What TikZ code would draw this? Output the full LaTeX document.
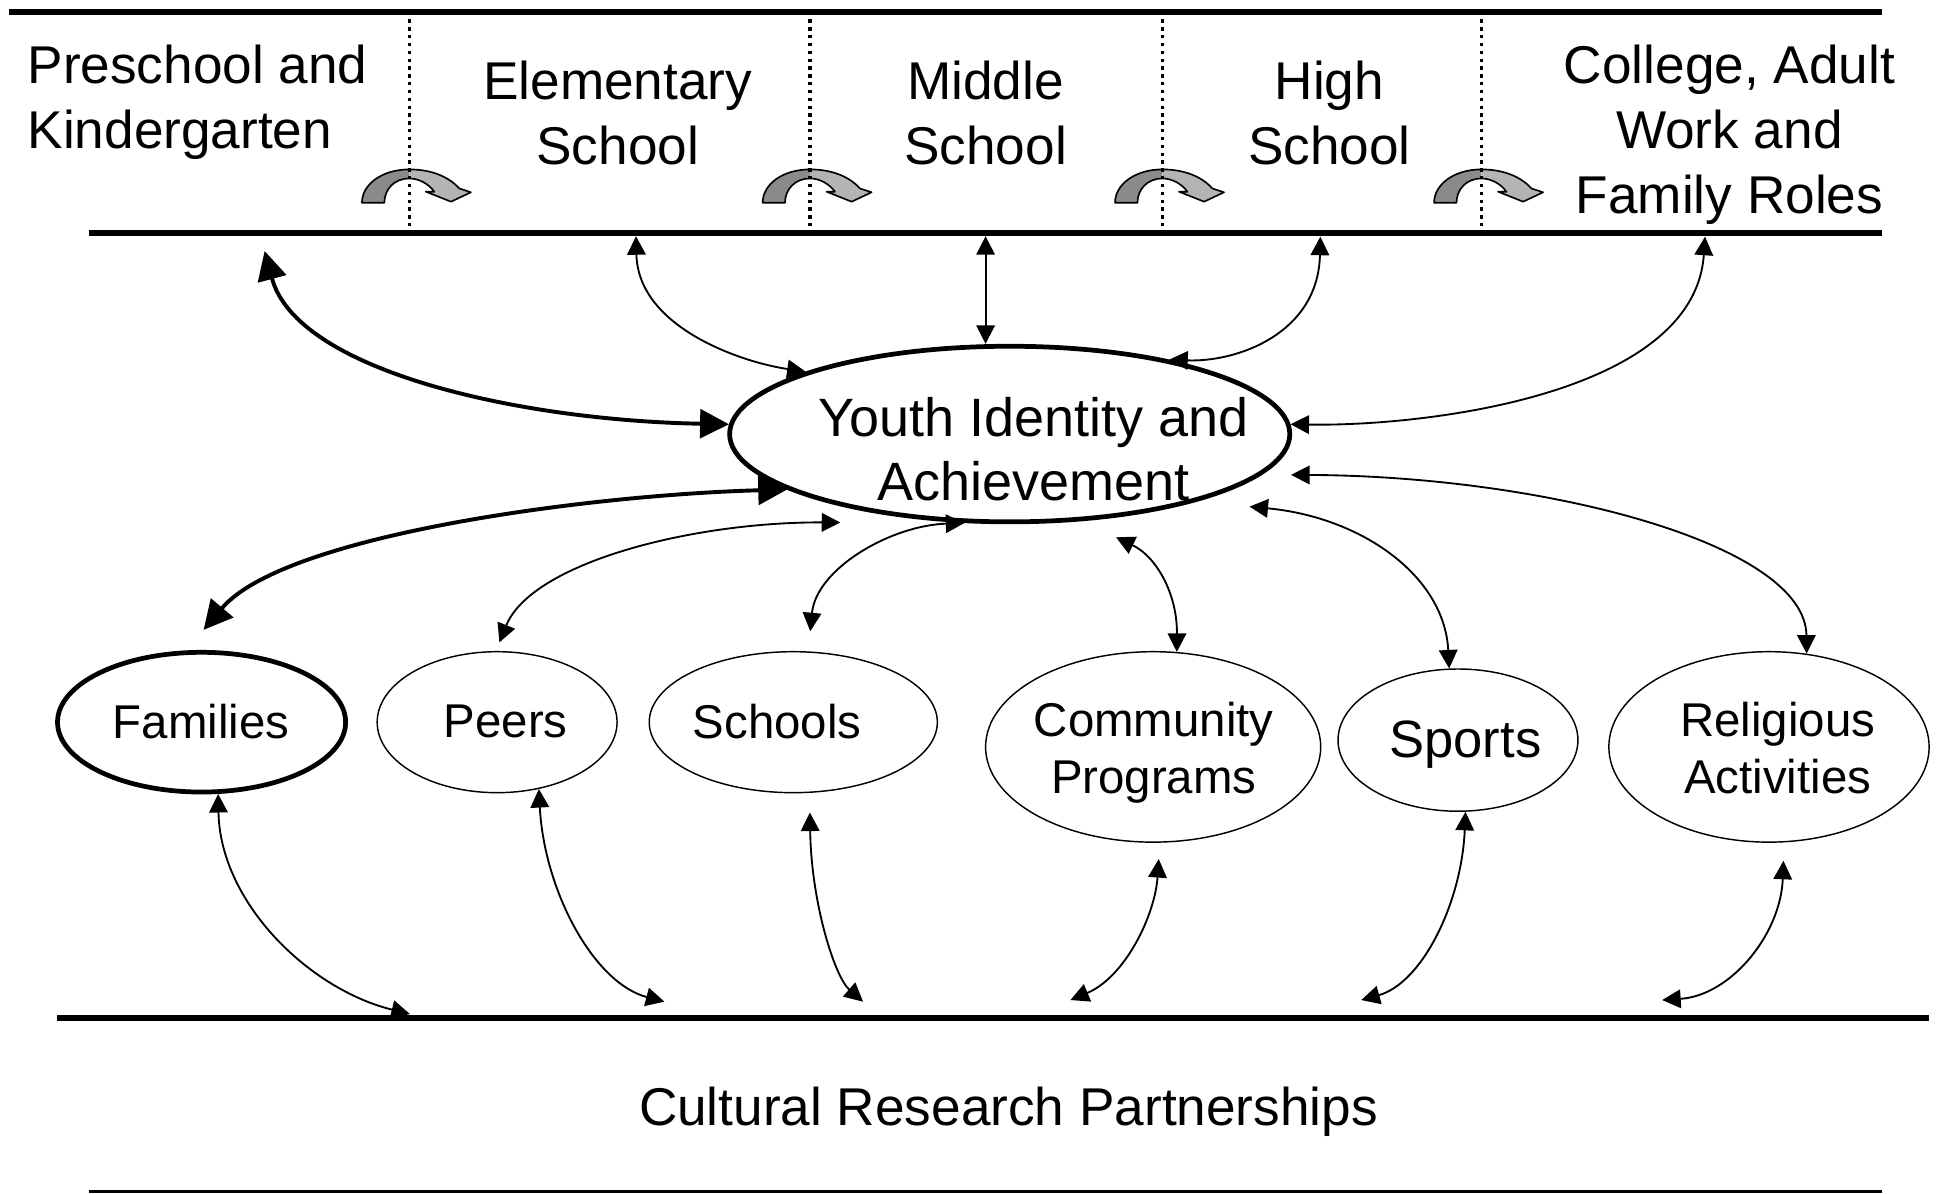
\documentclass[tikz,border=0pt]{standalone}
\usepackage{fontspec}
\setmainfont{Liberation Sans}
\usetikzlibrary{shapes.geometric,arrows.meta}
\definecolor{darkg}{RGB}{138,138,138}
\definecolor{lightg}{RGB}{180,180,180}
\tikzset{
  ell/.style={ellipse, draw, line width=0.7pt, inner sep=0pt},
  ellthick/.style={ellipse, draw, line width=2.3pt, inner sep=0pt},
  bigtxt/.style={align=center, inner sep=0pt, font=\fontsize{25.8pt}{31.5pt}\selectfont},
  youthtxt/.style={align=center, inner sep=0pt, font=\fontsize{26.2pt}{30.8pt}\selectfont},
  midtxt/.style={align=center, inner sep=0pt, font=\fontsize{23pt}{27.6pt}\selectfont},
  con/.style={line width=0.9pt, {Triangle[length=9pt,width=9pt]}-{Triangle[length=9pt,width=9pt]}},
  conthick/.style={line width=1.9pt, {Triangle[length=14pt,width=14pt]}-{Triangle[length=14pt,width=14pt]}},
  rulethick/.style={line width=3pt},
  rulethin/.style={line width=1.4pt},
  stagesep/.style={line width=1.6pt, dash pattern=on 1.6pt off 2.2pt},
  turnarrow/.pic={
    \fill[darkg] (-38.3,27) .. controls (-38.3,12) and (-22,0) .. (0,0) -- (0,7.3)
      .. controls (-12,7.3) and (-20.2,16) .. (-20.2,27) -- cycle;
    \fill[lightg] (0,0) .. controls (18,0) and (32,6) .. (40.4,15.4) -- (49.8,18.5) -- (33.7,26.1)
      -- (13.4,18) -- (20.2,18.1) .. controls (16,12) and (8,7.3) .. (0,7.3) -- cycle;
    \draw[line width=0.8pt, line join=round] (-38.3,27) .. controls (-38.3,12) and (-22,0) .. (0,0)
      .. controls (18,0) and (32,6) .. (40.4,15.4) -- (49.8,18.5) -- (33.7,26.1) -- (13.4,18)
      -- (20.2,18.1) .. controls (16,12) and (8,7.3) .. (0,7.3)
      .. controls (-12,7.3) and (-20.2,16) .. (-20.2,27) -- cycle;
  }
}
\begin{document}
\begin{tikzpicture}[x=0.6pt, y=-0.6pt]
\useasboundingbox (0,0) rectangle (1568,965);

% horizontal rules
\draw[rulethick] (7.5,9.4) -- (1522,9.4);
\draw[rulethick] (72,188.7) -- (1522,188.7);
\draw[rulethick] (46,823.5) -- (1560,823.5);
\draw[rulethin] (72,963.5) -- (1522,963.5);

% transition icons and separators
\foreach \x in {331,655,940,1198} {
  \pic at (\x,137) {turnarrow};
  \draw[stagesep] (\x,9.4) -- (\x,188.7);
}

% stage labels
\node[bigtxt, anchor=west, align=left] (pre) at (22,83) {Preschool and\\Kindergarten};
\node[bigtxt] (elem) at (499.5,91.5) {Elementary\\School};
\node[bigtxt] (midl) at (797,91.5) {Middle\\School};
\node[bigtxt] (high) at (1075,91.5) {High\\School};
\node[bigtxt] (coll) at (1398.5,109.3) {College, Adult\\Work and\\Family Roles};

% ellipses
\node[ellthick, minimum width=271.8pt, minimum height=85.2pt] (youth) at (816.5,351) {};
\node[youthtxt] (youthlbl) at (836,363.2) {Youth Identity and\\Achievement};

\node[ellthick, minimum width=139.8pt, minimum height=67.8pt] (fam) at (163,584) {};
\node[midtxt] (famlbl) at (162.5,583.6) {Families};
\node[ell, minimum width=116.4pt, minimum height=68.4pt] (peers) at (402,584) {};
\node[midtxt] (peerslbl) at (409,583.6) {Peers};
\node[ell, minimum width=139.8pt, minimum height=68.4pt] (schl) at (641.5,584) {};
\node[midtxt] (schllbl) at (628.5,583.6) {Schools};
\node[ell, minimum width=162.6pt, minimum height=92.4pt] (comm) at (932.5,604) {};
\node[midtxt] (commlbl) at (933,609) {Community\\Programs};
\node[ell, minimum width=116.4pt, minimum height=69pt] (sport) at (1179,598.5) {};
\node[bigtxt, font=\fontsize{25.5pt}{30pt}\selectfont] (sportlbl) at (1185,602.5) {Sports};
\node[ell, minimum width=155.4pt, minimum height=92.4pt] (relig) at (1430.5,604) {};
\node[midtxt] (religlbl) at (1437.5,605) {Religious\\Activities};

\node[bigtxt] (crp) at (815.5,899) {Cultural Research Partnerships};

% free ends
\coordinate (pkT) at (214,203);
\coordinate (elT) at (514.3,191);
\coordinate (miT) at (797,191);
\coordinate (hiT) at (1067.7,191.4);
\coordinate (coT) at (1378.8,191.4);
\coordinate (peY) at (679.5,422.5);
\coordinate (cmY) at (902.5,434.5);
\coordinate (spY) at (1010.4,409.7);
\coordinate (reY) at (1044,384);
\coordinate (famB) at (331.5,820);
\coordinate (peB) at (537.3,810);
\coordinate (scB) at (697.9,810);
\coordinate (cmB) at (865.6,808.7);
\coordinate (spB) at (1100.8,808.7);
\coordinate (reB) at (1344.1,808.7);

% stages <-> youth
\draw[conthick] (pkT) .. controls (240,300) and (420,340) .. (youth.178);
\draw[con] (elT) .. controls (516,265) and (600,293) .. (youth.163);
\draw[con] (miT) -- (miT |- youth.north);
\draw[con] (hiT) .. controls (1066,270) and (1000,293) .. (youth.25);
\draw[con] (coT) .. controls (1370,320) and (1150,345) .. (youth.2);

% youth <-> contexts
\draw[conthick, shorten >=13pt] (youth.194) .. controls (480,400) and (230,432) .. (fam.102);
\draw[con, shorten >=4.5pt] (peY) .. controls (560,422) and (430,455) .. (peers.91);
\draw[con, shorten >=9.8pt] (youth.243) .. controls (720,425) and (660,460) .. (schl.78);
\draw[con] (cmY) .. controls (935,450) and (952,480) .. (comm.76);
\draw[con] (spY) .. controls (1100,418) and (1168,465) .. (sport.97);
\draw[con] (reY) .. controls (1250,385) and (1460,440) .. (relig.68);

% contexts <-> cultural research partnerships
\draw[con] (fam.283) .. controls (178,730) and (250,800) .. (famB);
\draw[con] (peers.302) .. controls (440,720) and (480,795) .. (peB);
\draw[con, shorten <=9.5pt] (schl.283) .. controls (656,730) and (675,790) .. (scB);
\draw[con, shorten <=7.9pt] (comm.274) .. controls (934,740) and (910,790) .. (cmB);
\draw[con] (sport.276) .. controls (1182,730) and (1150,795) .. (spB);
\draw[con, shorten <=8.9pt] (relig.279) .. controls (1440,755) and (1400,805) .. (reB);
\end{tikzpicture}
\end{document}
